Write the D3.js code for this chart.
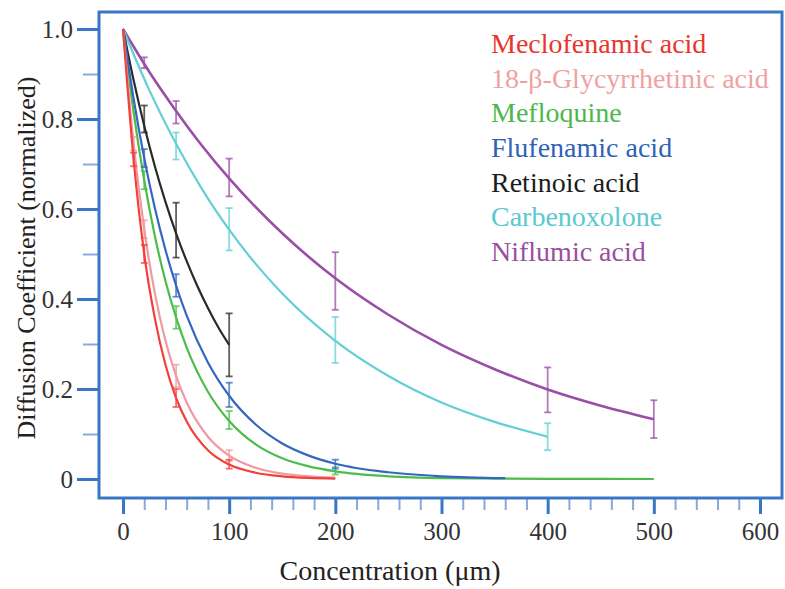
<!DOCTYPE html>
<html>
<head>
<meta charset="utf-8">
<script src="https://cdn.jsdelivr.net/npm/d3@7"></script>
<style>
  body { margin: 0; background: #fff; }
  svg, svg text { font-family: 'Liberation Serif', 'DejaVu Serif', 'Times New Roman', Times, 'Noto Serif', serif !important; }
</style>
</head>
<body>
<div id="chart"></div>
<script>
// series names, legend order
const names = ["Meclofenamic acid", "18-\u03b2-Glycyrrhetinic acid", "Mefloquine",
  "Flufenamic acid", "Retinoic acid", "Carbenoxolone", "Niflumic acid"];

// measured points (concentration, value, error)
const ptX = [
  [10, 20, 50, 100],
  [10, 20, 50, 100],
  [20, 50, 100, 200],
  [20, 50, 100, 200],
  [20, 50, 100],
  [50, 100, 200, 400],
  [20, 50, 100, 200, 400, 500]
];
const ptY = [
  [0.71, 0.50, 0.18, 0.033],
  [0.745, 0.555, 0.229, 0.052],
  [0.664, 0.359, 0.131, 0.018],
  [0.713, 0.43, 0.187, 0.033],
  [0.80, 0.553, 0.298],
  [0.74, 0.555, 0.309, 0.094],
  [0.925, 0.815, 0.67, 0.44, 0.198, 0.133]
];
const ptErr = [
  [0.015, 0.02, 0.02, 0.01],
  [0.015, 0.02, 0.025, 0.012],
  [0.02, 0.025, 0.02, 0.008],
  [0.02, 0.025, 0.027, 0.01],
  [0.03, 0.061, 0.07],
  [0.03, 0.047, 0.051, 0.03],
  [0.012, 0.025, 0.042, 0.064, 0.05, 0.042]
];

// fitted curves
const curveX = [
  [0, 10, 20, 30, 40, 50, 60, 80, 100, 125, 150, 175, 200],
  [0, 10, 20, 30, 40, 50, 60, 80, 100, 125, 150, 175, 200],
  [0, 10, 20, 30, 40, 50, 60, 80, 100, 125, 150, 175, 200, 250, 300, 400, 500],
  [0, 10, 20, 30, 40, 50, 60, 80, 100, 125, 150, 175, 200, 250, 300, 360],
  [0, 10, 20, 30, 40, 50, 60, 70, 80, 90, 100],
  [0, 25, 50, 75, 100, 150, 200, 250, 300, 350, 400],
  [0, 25, 50, 75, 100, 150, 200, 250, 300, 350, 400, 450, 500]
];
const curveY = [
  [1, 0.71, 0.50, 0.357, 0.254, 0.18, 0.128, 0.064, 0.032, 0.014, 0.006, 0.0025, 0.001],
  [1, 0.745, 0.555, 0.413, 0.307, 0.229, 0.17, 0.094, 0.052, 0.025, 0.012, 0.006, 0.003],
  [1, 0.815, 0.664, 0.54, 0.44, 0.359, 0.292, 0.194, 0.129, 0.077, 0.046, 0.028, 0.017, 0.006, 0.002, 0.0003, 0],
  [1, 0.845, 0.713, 0.602, 0.509, 0.43, 0.363, 0.259, 0.185, 0.121, 0.079, 0.052, 0.034, 0.015, 0.006, 0.002],
  [1, 0.886, 0.785, 0.695, 0.616, 0.546, 0.484, 0.429, 0.38, 0.336, 0.298],
  [1, 0.863, 0.745, 0.642, 0.554, 0.412, 0.307, 0.229, 0.17, 0.127, 0.094],
  [1, 0.904, 0.818, 0.739, 0.668, 0.546, 0.446, 0.365, 0.298, 0.244, 0.199, 0.163, 0.133]
];

const xMajor = [0, 100, 200, 300, 400, 500, 600];
const xMinor = d3.range(20, 600, 20).filter(v => v % 100 !== 0);
const yMajor = [0, 0.2, 0.4, 0.6, 0.8, 1.0];
const yMinor = [0.1, 0.3, 0.5, 0.7, 0.9];

const lineColors = ["#f2403c", "#ef9aa0", "#4cbd4a", "#3566c2", "#2a2a2a", "#62cfd6", "#9a4ea8"];
const textColors = ["#e8352e", "#f0a2a2", "#4cb84c", "#2f62b8", "#1c1c1c", "#5cc8d0", "#9a4ea2"];
const drawOrder = [6, 5, 4, 2, 3, 1, 0];

const width = 785, height = 589;
const axisBlue = "#3a76c6";

const svg = d3.select("#chart").append("svg")
  .attr("width", width)
  .attr("height", height);

const x = d3.scaleLinear().domain([0, 600]).range([123, 760]);
const y = d3.scaleLinear().domain([0, 1]).range([479, 29]);

const frame = { left: 99, top: 12, right: 782, bottom: 498 };

// ticks outside the frame
function styleAxis(g, color, w) {
  g.attr("font-family", null);
  g.select(".domain").remove();
  g.selectAll("line").attr("stroke", color).attr("stroke-width", w);
  g.selectAll("text")
    .attr("font-size", 25)
    .attr("fill", "#333");
}

svg.append("g")
  .attr("transform", `translate(0,${frame.bottom})`)
  .call(d3.axisBottom(x).tickValues(xMinor).tickSize(12).tickFormat(""))
  .call(g => styleAxis(g, "#86aadf", 2));

svg.append("g")
  .attr("transform", `translate(0,${frame.bottom})`)
  .call(d3.axisBottom(x).tickValues(xMajor).tickSize(16).tickPadding(8).tickFormat(d3.format("d")))
  .call(g => styleAxis(g, axisBlue, 3));

svg.append("g")
  .attr("transform", `translate(${frame.left},0)`)
  .call(d3.axisLeft(y).tickValues(yMinor).tickSize(16).tickFormat(""))
  .call(g => styleAxis(g, "#86aadf", 2));

svg.append("g")
  .attr("transform", `translate(${frame.left},0)`)
  .call(d3.axisLeft(y).tickValues(yMajor).tickSize(22).tickPadding(4)
    .tickFormat(d => d === 0 ? "0" : d3.format(".1f")(d)))
  .call(g => styleAxis(g, axisBlue, 3));

svg.append("rect")
  .attr("x", frame.left)
  .attr("y", frame.top)
  .attr("width", frame.right - frame.left)
  .attr("height", frame.bottom - frame.top)
  .attr("fill", "none")
  .attr("stroke", axisBlue)
  .attr("stroke-width", 3);

// axis titles
svg.append("text")
  .attr("x", 390)
  .attr("y", 580)
  .attr("text-anchor", "middle")
  .attr("font-size", 28)
  .attr("fill", "#222")
  .text("Concentration (\u03bcm)");

svg.append("text")
  .attr("transform", "translate(35,258) rotate(-90)")
  .attr("text-anchor", "middle")
  .attr("font-size", 26)
  .attr("fill", "#222")
  .text("Diffusion Coefficient (normalized)");

// curves and error bars
const line = d3.line()
  .x(d => x(d[0]))
  .y(d => y(d[1]))
  .curve(d3.curveMonotoneX);

drawOrder.forEach(i => {
  const pts = curveX[i].map((cx, j) => [cx, curveY[i][j]]);
  svg.append("path")
    .datum(pts)
    .attr("d", line)
    .attr("fill", "none")
    .attr("stroke", lineColors[i])
    .attr("stroke-width", i === 6 ? 2.6 : 2.2);

  const bars = ptX[i].map((px, j) => ({ x: px, y: ptY[i][j], e: ptErr[i][j] }));
  const g = svg.append("g")
    .attr("stroke", lineColors[i])
    .attr("stroke-opacity", 0.75)
    .attr("stroke-width", 1.8);
  bars.forEach(b => {
    const cx = x(b.x);
    g.append("line").attr("x1", cx).attr("x2", cx).attr("y1", y(b.y - b.e)).attr("y2", y(b.y + b.e));
    g.append("line").attr("x1", cx - 3.5).attr("x2", cx + 3.5).attr("y1", y(b.y - b.e)).attr("y2", y(b.y - b.e));
    g.append("line").attr("x1", cx - 3.5).attr("x2", cx + 3.5).attr("y1", y(b.y + b.e)).attr("y2", y(b.y + b.e));
  });
});

// legend
svg.append("g")
  .selectAll("text")
  .data(names)
  .join("text")
  .attr("x", 491)
  .attr("y", (d, i) => 43 + i * 34.7)
  .attr("dy", "0.35em")
  .attr("font-size", 28)
  .attr("fill", (d, i) => textColors[i])
  .text(d => d);
</script>
</body>
</html>
